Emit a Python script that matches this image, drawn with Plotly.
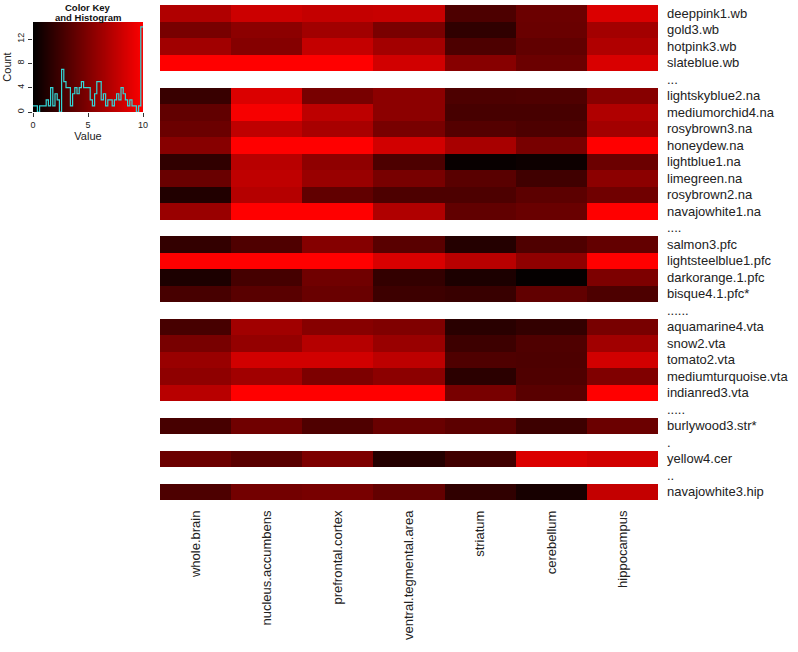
import numpy as np
import plotly.graph_objects as go

W, H = 798, 652
N = None

tissues = ["whole.brain", "nucleus.accumbens", "prefrontal.cortex",
           "ventral.tegmental.area", "striatum", "cerebellum", "hippocampus"]

row_labels = [
    "deeppink1.wb", "gold3.wb", "hotpink3.wb", "slateblue.wb",
    "...",
    "lightskyblue2.na", "mediumorchid4.na", "rosybrown3.na", "honeydew.na",
    "lightblue1.na", "limegreen.na", "rosybrown2.na", "navajowhite1.na",
    "....",
    "salmon3.pfc", "lightsteelblue1.pfc", "darkorange.1.pfc", "bisque4.1.pfc*",
    "......",
    "aquamarine4.vta", "snow2.vta", "tomato2.vta", "mediumturquoise.vta", "indianred3.vta",
    ".....",
    "burlywood3.str*",
    ".",
    "yellow4.cer",
    "..",
    "navajowhite3.hip",
]

whole_brain = [6.9, 4.7, 6.3, 10, N, 2.2, 3.8, 4.2, 5.3, 1.9, 4.1, 1.3, 6.0, N,
               2.0, 10, 1.1, 2.8, N, 2.8, 4.7, 6.0, 5.6, 7.2, N, 2.8, N, 4.2, N, 3.0]
nucleus_accumbens = [8.0, 5.5, 5.2, 10, N, 8.6, 9.7, 7.5, 10, 7.2, 7.5, 7.1, 10, N,
                     3.1, 10, 2.7, 3.5, N, 6.3, 5.8, 8.2, 6.3, 10, N, 4.4, N, 3.5, N, 4.5]
prefrontal_cortex = [7.7, 6.3, 7.7, 10, N, 4.7, 7.4, 6.6, 10, 5.6, 6.0, 3.8, 10, N,
                     5.2, 10, 4.4, 4.1, N, 5.3, 7.1, 8.2, 4.9, 10, N, 3.1, N, 4.9, N, 4.7]
ventral_tegmental_area = [7.8, 4.8, 6.4, 8.2, N, 5.5, 5.5, 4.7, 8.2, 3.0, 4.7, 3.0, 6.9, N,
                          3.5, 8.5, 2.0, 2.4, N, 5.0, 6.0, 7.4, 5.5, 10, N, 4.1, N, 1.4, N, 3.9]
striatum = [3.0, 1.9, 3.0, 5.3, N, 3.0, 2.8, 3.3, 6.6, 0.3, 3.5, 3.0, 3.8, N,
            1.4, 7.2, 1.1, 2.2, N, 1.6, 2.4, 3.1, 1.7, 4.7, N, 3.6, N, 2.5, N, 1.9]
cerebellum = [4.2, 4.1, 3.8, 4.2, N, 3.1, 2.8, 3.0, 4.7, 0.5, 2.5, 3.6, 4.1, N,
              3.1, 5.6, 0.2, 3.8, N, 2.0, 3.1, 3.0, 3.1, 3.5, N, 2.4, N, 8.6, N, 0.9]
hippocampus = [8.6, 6.4, 6.9, 8.5, N, 5.3, 6.9, 6.4, 10, 4.2, 5.5, 4.4, 10, N,
               3.9, 10, 4.9, 3.0, N, 4.7, 6.3, 8.2, 5.0, 10, N, 4.2, N, 8.2, N, 7.7]

columns = [whole_brain, nucleus_accumbens, prefrontal_cortex, ventral_tegmental_area,
           striatum, cerebellum, hippocampus]

# colour key histogram (bins of width 0.2 from 0 to 10)
hist_edges = [round(0.2 * i, 1) for i in range(51)]
hist_counts = [1, 1, 0, 1, 1, 1, 2, 1, 4, 1,
               3, 2, 0, 7, 5, 4, 4, 1, 3, 4,
               3, 4, 5, 4, 4, 4, 2, 1, 3, 5,
               5, 2, 3, 1, 2, 2, 1, 2, 3, 2,
               4, 3, 2, 1, 2, 1, 1, 0, 1, 14]

zmin, zmax = 0, 10
count_ticks = [0, 4, 8, 12]
count_max = 14.8
value_ticks = [0, 5, 10]

z = [[col[i] for col in columns] for i in range(len(row_labels))]
hy = hist_counts + [hist_counts[-1]]

key_levels = list(np.linspace(zmin, zmax, 201))

colorscale = [[0, "#000000"], [1, "#FF0000"]]
FONT = "Liberation Sans, Arial, sans-serif"

fig = go.Figure()
fig.add_trace(go.Heatmap(
    z=z, x=tissues, y=row_labels, colorscale=colorscale, zmin=zmin, zmax=zmax,
    showscale=False, xaxis="x", yaxis="y", hoverongaps=False,
))
fig.add_trace(go.Heatmap(
    z=[key_levels, key_levels], x=key_levels, y=[0, count_max],
    colorscale=colorscale, zmin=zmin, zmax=zmax, showscale=False,
    xaxis="x2", yaxis="y2", hoverinfo="skip",
))
fig.add_trace(go.Scatter(
    x=hist_edges, y=hy, mode="lines", line=dict(color="#33D6D6", width=1.2, shape="hv"),
    xaxis="x2", yaxis="y2", showlegend=False, hoverinfo="skip",
))

def px_x(p):
    return p / W

def px_y(p):
    return 1 - p / H

fig.update_layout(
    width=W, height=H,
    margin=dict(l=0, r=0, t=0, b=0, autoexpand=False),
    paper_bgcolor="white", plot_bgcolor="white",
    font=dict(family=FONT, color="#222222"),
    showlegend=False,
    xaxis=dict(
        domain=[px_x(160), px_x(658)], side="bottom", tickangle=-90,
        tickfont=dict(size=13, family=FONT, color="#222222"), ticks="",
        showgrid=False, zeroline=False, showline=False, ticklabelstandoff=7,
        anchor="y", automargin=False,
    ),
    yaxis=dict(
        domain=[px_y(500), px_y(5)], side="right", autorange="reversed",
        categoryorder="array", categoryarray=row_labels,
        tickfont=dict(size=13, family=FONT, color="#222222"), ticks="",
        showgrid=False, zeroline=False, showline=False, ticklabelstandoff=8,
        anchor="x", automargin=False,
    ),
    xaxis2=dict(
        domain=[px_x(33), px_x(143)], range=[zmin, zmax], anchor="y2",
        tickvals=value_ticks, ticks="outside", ticklen=4, tickcolor="#333333",
        tickfont=dict(size=9, family=FONT, color="#222222"),
        title=dict(text="Value", font=dict(size=11, family=FONT, color="#222222"), standoff=0),
        showgrid=False, zeroline=False, showline=False, automargin=False,
    ),
    yaxis2=dict(
        domain=[px_y(112), px_y(22)], range=[0, count_max], anchor="x2",
        tickvals=count_ticks, ticks="outside", ticklen=4, tickcolor="#333333",
        tickangle=-90,
        tickfont=dict(size=9, family=FONT, color="#222222"),
        title=dict(text="Count", font=dict(size=11, family=FONT, color="#222222"), standoff=2),
        showgrid=False, zeroline=False, showline=False, automargin=False,
    ),
    annotations=[
        dict(text="<b>Color Key</b>", x=px_x(88), y=px_y(7), xref="paper", yref="paper",
             showarrow=False, font=dict(size=9.5, family=FONT, color="#111111"),
             xanchor="center", yanchor="middle"),
        dict(text="<b>and Histogram</b>", x=px_x(88), y=px_y(18), xref="paper", yref="paper",
             showarrow=False, font=dict(size=9.5, family=FONT, color="#111111"),
             xanchor="center", yanchor="middle"),
    ],
)

fig.write_html("out.html", config={"displayModeBar": False},
               post_script="document.body.style.margin='0';document.body.style.overflow='hidden';")
